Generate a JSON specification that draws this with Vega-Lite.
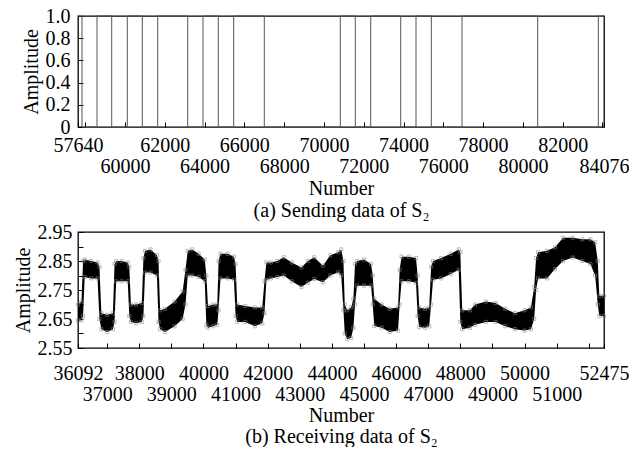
{
  "$schema": "https://vega.github.io/schema/vega-lite/v6.json",
  "autosize": {"type": "pad"},
  "padding": {"left": 12, "top": 5, "right": 0, "bottom": 0},
  "background": "white",
  "bounds": "flush",
  "spacing": 105,
  "config": {
    "view": {"stroke": "#000", "strokeWidth": 1.3},
    "font": "Liberation Serif",
    "axis": {
      "domain": false, "grid": false, "tickColor": "#000", "tickSize": -5, "tickWidth": 1,
      "labelFont": "Liberation Serif", "labelFontSize": 20, "labelColor": "#000",
      "titleFont": "Liberation Serif", "titleFontSize": 20, "titleColor": "#000", "titleFontWeight": "normal",
      "labelOverlap": false, "labelFlush": false, "labelBound": false
    }
  },
  "datasets": {
    "send": [
      {"n": 57640, "a": 1}, {"n": 57841, "a": 0}, {"n": 58595, "a": 1}, {"n": 59334, "a": 0},
      {"n": 60118, "a": 1}, {"n": 60872, "a": 0}, {"n": 61646, "a": 1}, {"n": 63153, "a": 0},
      {"n": 63923, "a": 1}, {"n": 64691, "a": 0}, {"n": 65465, "a": 1}, {"n": 67003, "a": 0},
      {"n": 70823, "a": 1}, {"n": 71577, "a": 0}, {"n": 72351, "a": 1}, {"n": 73859, "a": 0},
      {"n": 74628, "a": 1}, {"n": 75397, "a": 0}, {"n": 76940, "a": 1}, {"n": 80744, "a": 0},
      {"n": 83791, "a": 1}, {"n": 84076, "a": 1}
    ],
    "recv": [
      {"n": 36092, "lo": 2.645, "hi": 2.70}, {"n": 36200, "lo": 2.645, "hi": 2.71},
      {"n": 36250, "lo": 2.66, "hi": 2.85}, {"n": 36300, "lo": 2.795, "hi": 2.855},
      {"n": 36500, "lo": 2.79, "hi": 2.85}, {"n": 36700, "lo": 2.79, "hi": 2.845},
      {"n": 36760, "lo": 2.65, "hi": 2.83}, {"n": 36820, "lo": 2.615, "hi": 2.67},
      {"n": 37000, "lo": 2.605, "hi": 2.665}, {"n": 37180, "lo": 2.615, "hi": 2.67},
      {"n": 37230, "lo": 2.64, "hi": 2.84}, {"n": 37280, "lo": 2.78, "hi": 2.85},
      {"n": 37450, "lo": 2.78, "hi": 2.85}, {"n": 37640, "lo": 2.78, "hi": 2.845},
      {"n": 37690, "lo": 2.66, "hi": 2.83}, {"n": 37740, "lo": 2.64, "hi": 2.70},
      {"n": 37900, "lo": 2.635, "hi": 2.70}, {"n": 38080, "lo": 2.64, "hi": 2.705},
      {"n": 38130, "lo": 2.66, "hi": 2.86}, {"n": 38180, "lo": 2.81, "hi": 2.885},
      {"n": 38350, "lo": 2.81, "hi": 2.89}, {"n": 38550, "lo": 2.80, "hi": 2.87},
      {"n": 38600, "lo": 2.64, "hi": 2.85}, {"n": 38650, "lo": 2.615, "hi": 2.68},
      {"n": 38800, "lo": 2.605, "hi": 2.685}, {"n": 39100, "lo": 2.625, "hi": 2.71},
      {"n": 39350, "lo": 2.65, "hi": 2.745}, {"n": 39440, "lo": 2.70, "hi": 2.82},
      {"n": 39510, "lo": 2.80, "hi": 2.885}, {"n": 39650, "lo": 2.80, "hi": 2.89},
      {"n": 39850, "lo": 2.795, "hi": 2.875}, {"n": 40040, "lo": 2.78, "hi": 2.855},
      {"n": 40090, "lo": 2.63, "hi": 2.80}, {"n": 40140, "lo": 2.62, "hi": 2.695},
      {"n": 40300, "lo": 2.625, "hi": 2.70}, {"n": 40430, "lo": 2.63, "hi": 2.70},
      {"n": 40470, "lo": 2.68, "hi": 2.85}, {"n": 40530, "lo": 2.79, "hi": 2.875},
      {"n": 40750, "lo": 2.79, "hi": 2.875}, {"n": 40950, "lo": 2.785, "hi": 2.865},
      {"n": 41000, "lo": 2.66, "hi": 2.84}, {"n": 41050, "lo": 2.64, "hi": 2.70},
      {"n": 41300, "lo": 2.64, "hi": 2.695}, {"n": 41600, "lo": 2.625, "hi": 2.69},
      {"n": 41830, "lo": 2.635, "hi": 2.69}, {"n": 41900, "lo": 2.67, "hi": 2.78},
      {"n": 41960, "lo": 2.785, "hi": 2.845}, {"n": 42100, "lo": 2.79, "hi": 2.845},
      {"n": 42300, "lo": 2.795, "hi": 2.85}, {"n": 42500, "lo": 2.80, "hi": 2.863},
      {"n": 42750, "lo": 2.78, "hi": 2.845}, {"n": 43050, "lo": 2.76, "hi": 2.828},
      {"n": 43250, "lo": 2.775, "hi": 2.85}, {"n": 43450, "lo": 2.788, "hi": 2.863},
      {"n": 43720, "lo": 2.777, "hi": 2.834}, {"n": 43950, "lo": 2.80, "hi": 2.87},
      {"n": 44200, "lo": 2.811, "hi": 2.88}, {"n": 44290, "lo": 2.80, "hi": 2.89},
      {"n": 44360, "lo": 2.68, "hi": 2.85}, {"n": 44400, "lo": 2.60, "hi": 2.70},
      {"n": 44480, "lo": 2.58, "hi": 2.68}, {"n": 44600, "lo": 2.585, "hi": 2.69},
      {"n": 44670, "lo": 2.62, "hi": 2.72}, {"n": 44720, "lo": 2.70, "hi": 2.84},
      {"n": 44780, "lo": 2.765, "hi": 2.85}, {"n": 45000, "lo": 2.765, "hi": 2.855},
      {"n": 45220, "lo": 2.765, "hi": 2.84}, {"n": 45270, "lo": 2.70, "hi": 2.80},
      {"n": 45320, "lo": 2.626, "hi": 2.72}, {"n": 45550, "lo": 2.62, "hi": 2.70},
      {"n": 45800, "lo": 2.605, "hi": 2.685}, {"n": 46060, "lo": 2.61, "hi": 2.69},
      {"n": 46110, "lo": 2.70, "hi": 2.82}, {"n": 46170, "lo": 2.78, "hi": 2.865},
      {"n": 46400, "lo": 2.78, "hi": 2.865}, {"n": 46620, "lo": 2.775, "hi": 2.86},
      {"n": 46670, "lo": 2.66, "hi": 2.80}, {"n": 46720, "lo": 2.622, "hi": 2.69},
      {"n": 46900, "lo": 2.62, "hi": 2.685}, {"n": 47030, "lo": 2.625, "hi": 2.69},
      {"n": 47090, "lo": 2.70, "hi": 2.83}, {"n": 47150, "lo": 2.785, "hi": 2.85},
      {"n": 47400, "lo": 2.79, "hi": 2.86}, {"n": 47700, "lo": 2.805, "hi": 2.875},
      {"n": 47950, "lo": 2.82, "hi": 2.89}, {"n": 48000, "lo": 2.64, "hi": 2.88},
      {"n": 48060, "lo": 2.615, "hi": 2.68}, {"n": 48300, "lo": 2.62, "hi": 2.68},
      {"n": 48459, "lo": 2.63, "hi": 2.70}, {"n": 48800, "lo": 2.64, "hi": 2.71},
      {"n": 49100, "lo": 2.64, "hi": 2.705}, {"n": 49400, "lo": 2.625, "hi": 2.685},
      {"n": 49700, "lo": 2.615, "hi": 2.67}, {"n": 50000, "lo": 2.61, "hi": 2.68},
      {"n": 50200, "lo": 2.615, "hi": 2.69}, {"n": 50300, "lo": 2.65, "hi": 2.76},
      {"n": 50360, "lo": 2.75, "hi": 2.86}, {"n": 50420, "lo": 2.79, "hi": 2.88},
      {"n": 50700, "lo": 2.79, "hi": 2.885}, {"n": 50950, "lo": 2.822, "hi": 2.897},
      {"n": 51200, "lo": 2.85, "hi": 2.93}, {"n": 51500, "lo": 2.862, "hi": 2.93},
      {"n": 51800, "lo": 2.85, "hi": 2.925}, {"n": 52050, "lo": 2.84, "hi": 2.925},
      {"n": 52200, "lo": 2.80, "hi": 2.915}, {"n": 52280, "lo": 2.70, "hi": 2.85},
      {"n": 52330, "lo": 2.66, "hi": 2.73}, {"n": 52475, "lo": 2.66, "hi": 2.73}
    ]
  },
  "vconcat": [
    {
      "width": 526,
      "height": 111,
      "data": {"name": "send"},
      "mark": {"type": "line", "interpolate": "step-after", "stroke": "#555", "strokeWidth": 1},
      "encoding": {
        "x": {
          "field": "n", "type": "quantitative",
          "scale": {"domain": [57640, 84076], "nice": false, "zero": false},
          "axis": {
            "values": [57640, 58000, 60000, 62000, 64000, 66000, 68000, 70000, 72000, 74000, 76000, 78000, 80000, 82000, 84000, 84076],
            "format": "d",
            "labelOverlap": false,
            "labelExpr": "indexof([58000, 84000], datum.value) >= 0 ? '' : (indexof([57640, 62000, 66000, 70000, 74000, 78000, 82000], datum.value) >= 0 ? datum.label : ['', datum.label])",
            "labelPadding": 13,
            "labelLineHeight": 21,
            "title": ["Number", "(a) Sending data of S₂"],
            "titleLineHeight": 22,
            "titlePadding": 2
          }
        },
        "y": {
          "field": "a", "type": "quantitative",
          "scale": {"domain": [0, 1], "nice": false},
          "axis": {
            "values": [0, 0.2, 0.4, 0.6, 0.8, 1.0],
            "labelOverlap": false,
            "labelExpr": "datum.value == 0 ? '0' : format(datum.value, '.1f')",
            "labelPadding": 13,
            "title": "Amplitude",
            "titlePadding": 4
          }
        }
      }
    },
    {
      "width": 526,
      "height": 116,
      "data": {"name": "recv"},
      "encoding": {
        "x": {
          "field": "n", "type": "quantitative",
          "scale": {"domain": [36092, 52475], "nice": false, "zero": false},
          "axis": {
            "values": [36092, 37000, 38000, 39000, 40000, 41000, 42000, 43000, 44000, 45000, 46000, 47000, 48000, 49000, 50000, 51000, 52000, 52475],
            "format": "d",
            "labelOverlap": false,
            "labelExpr": "datum.value == 52000 ? '' : (indexof([37000, 39000, 41000, 43000, 45000, 47000, 49000, 51000], datum.value) >= 0 ? ['', datum.label] : datum.label)",
            "labelPadding": 20,
            "labelLineHeight": 21,
            "title": ["Number", "(b) Receiving data of S₂"],
            "titleLineHeight": 21,
            "titlePadding": 1
          }
        }
      },
      "layer": [
        {
          "mark": {"type": "area", "color": "#000", "opacity": 1},
          "encoding": {
            "y": {
              "field": "lo", "type": "quantitative",
              "scale": {"domain": [2.55, 2.95], "nice": false, "zero": false},
              "axis": {
                "values": [2.55, 2.6, 2.65, 2.7, 2.75, 2.8, 2.85, 2.9, 2.95],
                "labelOverlap": false,
                "labelExpr": "indexof(['2.55', '2.65', '2.75', '2.85', '2.95'], format(datum.value, '.2f')) >= 0 ? format(datum.value, '.2f') : ''",
                "labelPadding": 11,
                "title": "Amplitude",
                "titlePadding": 4
              }
            },
            "y2": {"field": "hi"}
          }
        },
        {
          "mark": {"type": "point", "shape": "square", "size": 10, "filled": false, "stroke": "#888", "strokeWidth": 0.8},
          "encoding": {
            "y": {
              "field": "hi", "type": "quantitative",
              "axis": {
                "values": [2.55, 2.6, 2.65, 2.7, 2.75, 2.8, 2.85, 2.9, 2.95],
                "labelOverlap": false,
                "labelExpr": "indexof(['2.55', '2.65', '2.75', '2.85', '2.95'], format(datum.value, '.2f')) >= 0 ? format(datum.value, '.2f') : ''",
                "labelPadding": 11,
                "title": "Amplitude",
                "titlePadding": 4
              }
            }
          }
        },
        {
          "mark": {"type": "point", "shape": "square", "size": 10, "filled": false, "stroke": "#888", "strokeWidth": 0.8},
          "encoding": {
            "y": {
              "field": "lo", "type": "quantitative",
              "axis": {
                "values": [2.55, 2.6, 2.65, 2.7, 2.75, 2.8, 2.85, 2.9, 2.95],
                "labelOverlap": false,
                "labelExpr": "indexof(['2.55', '2.65', '2.75', '2.85', '2.95'], format(datum.value, '.2f')) >= 0 ? format(datum.value, '.2f') : ''",
                "labelPadding": 11,
                "title": "Amplitude",
                "titlePadding": 4
              }
            }
          }
        }
      ]
    }
  ]
}
